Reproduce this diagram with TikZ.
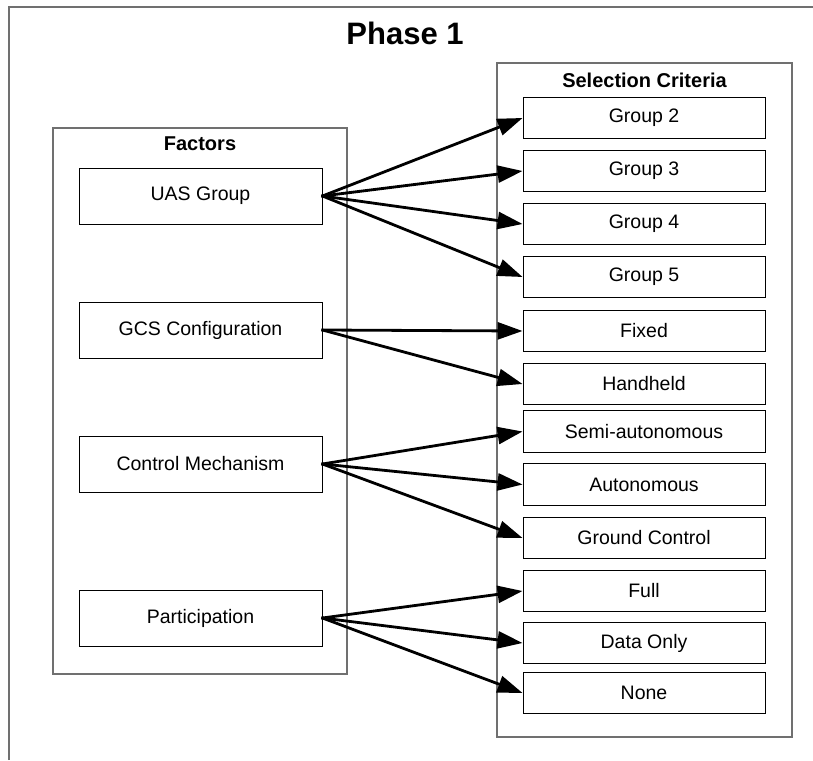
\documentclass[tikz,border=0pt]{standalone}
\usepackage{fontspec}
\setmainfont{Liberation Sans}
\usetikzlibrary{arrows.meta}
\definecolor{framegray}{HTML}{707070}
\begin{document}
\begin{tikzpicture}[x=1pt,y=-1pt,
  container/.style={draw=framegray, line width=1.4pt, inner sep=0pt},
  factorbox/.style={draw=black, line width=0.9pt, minimum width=243pt, minimum height=56pt, inner sep=0pt, font=\fontsize{19.5}{21}\selectfont},
  critbox/.style={draw=black, line width=0.9pt, minimum width=242pt, minimum height=41.5pt, inner sep=0pt, font=\fontsize{19.5}{21}\selectfont},
  heading/.style={font=\bfseries\fontsize{20}{22}\selectfont, inner sep=0pt},
  link/.style={line width=2.8pt, -{Triangle[length=25pt,width=17pt]}, shorten <=-1pt}
]
\useasboundingbox (0,0) rectangle (813,760);

% outer frame (only its top and left edges fall inside the page)
\draw[framegray, line width=2pt] (9,760) -- (9,7) -- (813,7);
\node[font=\bfseries\fontsize{31}{35}\selectfont, inner sep=0pt] (title) at (405,33) {Phase 1};

% factor column
\node[container, minimum width=294pt, minimum height=546pt] (factors) at (200,401) {};
\node[heading] (factorshead) at (200,144) {Factors};
\node[factorbox] (uas) at (200.5,196) {UAS Group};
\node[factorbox] (gcs) at (200.5,330) {GCS Configuration};
\node[factorbox] (ctrl) at (200.5,464) {Control Mechanism};
\node[factorbox] (part) at (200.5,618) {Participation};

% selection criteria column
\node[container, minimum width=295pt, minimum height=674pt] (criteria) at (644.5,400) {};
\node[heading] (criteriahead) at (644.5,80) {Selection Criteria};
\node[critbox] (g2) at (644,118) {Group 2};
\node[critbox] (g3) at (644,171) {Group 3};
\node[critbox] (g4) at (644,224) {Group 4};
\node[critbox] (g5) at (644,277) {Group 5};
\node[critbox] (fixed) at (644,331) {Fixed};
\node[critbox] (hand) at (644,384) {Handheld};
\node[critbox] (semi) at (644,431.5) {Semi-autonomous};
\node[critbox] (auto) at (644,484.5) {Autonomous};
\node[critbox] (ground) at (644,538) {Ground Control};
\node[critbox] (full) at (644,591) {Full};
\node[critbox] (data) at (644,643) {Data Only};
\node[critbox] (none) at (644,693) {None};

% links from each factor to its criteria
\foreach \t in {g2,g3,g4,g5} \draw[link] (uas.east) -- (\t.west);
\foreach \t in {fixed,hand} \draw[link] (gcs.east) -- (\t.west);
\foreach \t in {semi,auto,ground} \draw[link] (ctrl.east) -- (\t.west);
\foreach \t in {full,data,none} \draw[link] (part.east) -- (\t.west);
\end{tikzpicture}
\end{document}
